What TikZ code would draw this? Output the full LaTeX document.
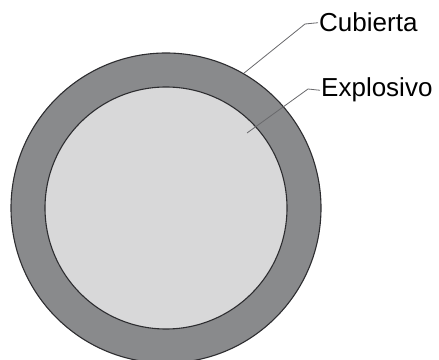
\documentclass[tikz,border=0pt]{standalone}
\usepackage{fontspec}
\setmainfont{Liberation Sans}
\usepackage{tikz}
\usetikzlibrary{positioning,calc}

\definecolor{ringgray}{RGB}{137,138,140}
\definecolor{coregray}{RGB}{216,216,217}
\definecolor{edgegray}{RGB}{45,45,48}
\definecolor{leadgray}{RGB}{105,105,108}

\begin{document}
\begin{tikzpicture}[
    x=1pt, y=1pt,
    disc/.style={circle, draw=edgegray, line width=1.1pt, inner sep=0pt},
    tag/.style={inner sep=1pt, anchor=base west, font=\fontsize{26}{30}\selectfont},
    leader/.style={draw=leadgray, line width=0.8pt}
]
    \useasboundingbox (0,0) rectangle (439,359);
    % shell and charge
    \node[disc, fill=ringgray, minimum size=310pt] (cubierta) at (166,151) {};
    \node[disc, fill=coregray, minimum size=242pt] (explosivo) at (166,151) {};
    % labels
    \node[tag] (cubiertaLbl) at (318,327) {Cubierta};
    \node[tag] (explosivoLbl) at (320,262) {Explosivo};
    \coordinate (explosivoEnd) at (247,226);
    \draw[leader] (cubierta.60) -- (305,335) -- (cubiertaLbl.west);
    \draw[leader] (explosivoEnd) -- (308,270) -- (explosivoLbl.west);
\end{tikzpicture}
\end{document}
